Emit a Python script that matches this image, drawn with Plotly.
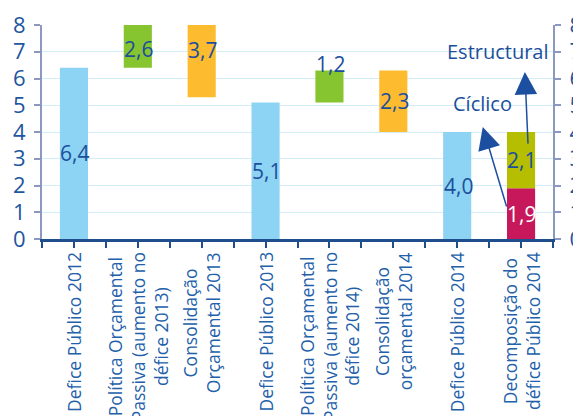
import plotly.graph_objects as go

# ---- data ----
categories = [
    "Defice Público 2012",
    "Política Orçamental<br>Passiva (aumento no<br>défice 2013)",
    "Consolidação<br>Orçamental 2013",
    "Defice Público 2013",
    "Política Orçamental<br>Passiva (aumento no<br>défice 2014)",
    "Consolidação<br>orçamental 2014",
    "Defice Público 2014",
    "Decomposição do<br>défice Público 2014",
]
measures = ["absolute", "relative", "relative", "absolute", "relative", "relative", "absolute"]
changes = [6.4, 2.6, -3.7, 5.1, 1.2, -2.3, 4.0]
cyclic = 1.9
structural = 2.1
y_ticks = [0, 1, 2, 3, 4, 5, 6, 7, 8]

# ---- style ----
C_TOTAL = "#8DD3F3"
C_UP = "#86C52F"
C_DOWN = "#FDBB2F"
C_CYC = "#C8185C"
C_STR = "#B5BE00"
TXT = "#1B4F9C"
AX_GRAY = "#8C98C2"
AX_DARK = "#1F4E8C"
GRID = "#D3EEF8"
FONT = "Open Sans"
YMAX = 8
BAR_W = 0.44

# compute floating bars
bases, heights, colors = [], [], []
level = 0
for m, c in zip(measures, changes):
    if m == "absolute":
        level = c
        bases.append(0)
        heights.append(c)
        colors.append(C_TOTAL)
    else:
        new = level + c
        bases.append(min(level, new))
        heights.append(abs(c))
        colors.append(C_UP if c > 0 else C_DOWN)
        level = new

xs = list(range(len(categories)))
fig = go.Figure()
fig.add_trace(go.Bar(x=xs[:7], y=heights, base=bases, marker_color=colors,
                     marker_line_width=0, width=BAR_W, showlegend=False, hoverinfo="skip"))
fig.add_trace(go.Bar(x=[xs[7]], y=[cyclic], base=[0], marker_color=C_CYC,
                     marker_line_width=0, width=BAR_W, showlegend=False, hoverinfo="skip"))
fig.add_trace(go.Bar(x=[xs[7]], y=[structural], base=[cyclic], marker_color=C_STR,
                     marker_line_width=0, width=BAR_W, showlegend=False, hoverinfo="skip"))
# dummy for right axis
fig.add_trace(go.Scatter(x=[0], y=[0], yaxis="y2", mode="markers", marker_opacity=0,
                         showlegend=False, hoverinfo="skip"))

def fmt(v):
    return f"{abs(v):.1f}".replace(".", ",")

label_nudge = [0, -3, 11, 0, 23, 0, 0]
anns = []
for i, (b, h) in enumerate(zip(bases, heights)):
    lo, hi = max(b, 0), min(b + h, YMAX)
    anns.append(dict(x=i, y=(lo + hi) / 2, text=fmt(changes[i]), showarrow=False,
                     xshift=1, yshift=label_nudge[i], font=dict(family=FONT, size=21, color=TXT)))
anns.append(dict(x=7, y=cyclic / 2, text=fmt(cyclic), showarrow=False,
                 font=dict(family=FONT, size=21, color="white")))
anns.append(dict(x=7, y=cyclic + structural / 2, text=fmt(structural), showarrow=False,
                 font=dict(family=FONT, size=21, color=TXT)))

# category labels (rotated, centred lines)
for i, cat in enumerate(categories):
    anns.append(dict(x=i, y=0, xref="x", yref="paper", yanchor="top", xanchor="center",
                     yshift=-11, text=cat, textangle=-90, align="center", showarrow=False,
                     font=dict(family=FONT, size=17.5, color="#2260AA")))

# arrows + labels
anns.append(dict(x=7.06, y=6.24, ax=7.11, ay=3.51, axref="x", ayref="y", xref="x", yref="y",
                 showarrow=True, arrowhead=2, arrowsize=3, arrowwidth=1.5, arrowcolor="#1D4FA0", text=""))
anns.append(dict(x=6.40, y=4.19, ax=6.78, ay=1.16, axref="x", ayref="y", xref="x", yref="y",
                 showarrow=True, arrowhead=2, arrowsize=3, arrowwidth=1.5, arrowcolor="#1D4FA0", text=""))
anns.append(dict(x=6.64, y=7.0, text="Estructural", showarrow=False,
                 font=dict(family=FONT, size=20, color=TXT)))
anns.append(dict(x=6.40, y=5.05, text="Cíclico", showarrow=False,
                 font=dict(family=FONT, size=20, color=TXT)))

fig.update_layout(
    width=573, height=416,
    margin=dict(l=42, r=20, t=25, b=177),
    paper_bgcolor="white", plot_bgcolor="white",
    barmode="overlay",
    annotations=anns,
    xaxis=dict(range=[-0.5, 7.5], tickvals=xs, showticklabels=False, ticks="outside",
               ticklen=6, tickwidth=2, tickcolor=AX_DARK, showline=True, linecolor=AX_DARK,
               linewidth=2.5, showgrid=False, zeroline=False, automargin=False,
               minor=dict(tickvals=[i - 0.5 for i in range(9)], ticks="outside", ticklen=6,
                          tickwidth=2, tickcolor=AX_DARK, showgrid=False)),
    yaxis=dict(range=[0, YMAX], tickvals=y_ticks, ticks="outside", ticklen=6, tickwidth=2,
               tickcolor=AX_GRAY, showline=True, linecolor=AX_GRAY, linewidth=2,
               gridcolor=GRID, gridwidth=1, zeroline=False, ticklabelstandoff=4, automargin=False,
               tickfont=dict(family=FONT, size=22, color="#1E56A0")),
    yaxis2=dict(range=[0, YMAX], tickvals=y_ticks, overlaying="y", side="right", ticks="outside",
                ticklen=6, tickwidth=2, tickcolor=AX_GRAY, showline=True, linecolor=AX_GRAY,
                linewidth=2, showgrid=False, zeroline=False, ticklabelstandoff=4, automargin=False,
                tickfont=dict(family=FONT, size=22, color="#1E56A0")),
)
fig.update_xaxes(layer="above traces")

fig.write_html("out.html")
